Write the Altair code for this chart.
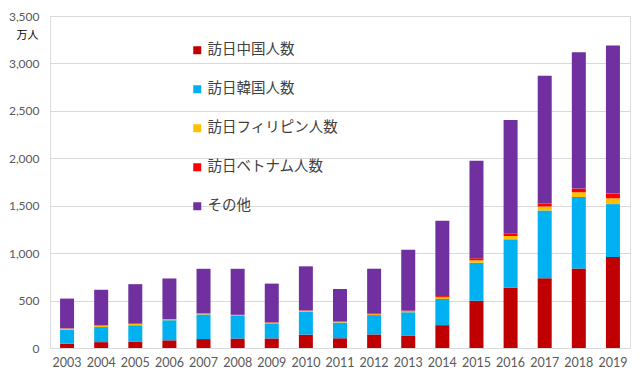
import altair as alt
import pandas as pd

years = [str(y) for y in range(2003, 2020)]
china = [45, 62, 65, 81, 94, 100, 101, 141, 104, 143, 131, 241, 499, 637, 736, 838, 959]
korea = [146, 159, 175, 212, 260, 238, 159, 244, 166, 204, 246, 276, 400, 509, 714, 754, 558]
philippines = [14, 15, 14, 10, 9, 8, 7, 8, 6, 9, 11, 18, 27, 35, 42, 50, 61]
vietnam = [2, 2, 3, 3, 4, 4, 4, 4, 4, 6, 8, 12, 19, 23, 31, 39, 50]
other = [314, 376, 416, 427, 468, 485, 408, 464, 342, 474, 640, 794, 1029, 1200, 1346, 1438, 1560]

series_names = ["訪日中国人数", "訪日韓国人数", "訪日フィリピン人数", "訪日ベトナム人数", "その他"]
series_values = [china, korea, philippines, vietnam, other]
colors = ["#c00000", "#00b0f0", "#ffc000", "#ff0000", "#7030a0"]

rows = []
for idx, (name, vals) in enumerate(zip(series_names, series_values)):
    for y, v in zip(years, vals):
        rows.append({"year": y, "series": name, "value": v, "idx": idx})
df = pd.DataFrame(rows)

num_font = "Lato"
jp_font = "Noto Sans CJK JP"

chart = alt.Chart(df).mark_bar().encode(
    x=alt.X("year:N", sort=years,
            scale=alt.Scale(paddingInner=0.59, paddingOuter=0.295),
            axis=alt.Axis(title=None, labelAngle=0, ticks=False, domain=False,
                          labelFont=num_font, labelFontSize=12.5, labelColor="#595959",
                          labelPadding=8)),
    y=alt.Y("value:Q", stack="zero",
            scale=alt.Scale(domain=[0, 3500], nice=False),
            axis=alt.Axis(values=list(range(0, 3501, 500)), format=",.0f", title="万人",
                          titleAngle=0, titleX=-12, titleY=19, titleAlign="right",
                          titleBaseline="middle", titleFont=jp_font, titleFontSize=11,
                          titleFontWeight="normal", titleColor="#000000",
                          ticks=False, domain=False, labelFont=num_font, labelFontSize=12,
                          labelColor="#595959", labelPadding=11,
                          gridColor="#d9d9d9", gridWidth=1)),
    color=alt.Color("series:N", sort=series_names,
                    scale=alt.Scale(domain=series_names, range=colors),
                    legend=alt.Legend(title=None, orient="none", legendX=140, legendY=27,
                                      symbolType="square", symbolSize=64,
                                      symbolStrokeWidth=0,
                                      labelFont=jp_font, labelFontSize=14.5,
                                      labelColor="#404040", rowPadding=24,
                                      labelOffset=3)),
    order=alt.Order("idx:Q", sort="ascending"),
).properties(
    width=580, height=332,
    autosize=alt.AutoSizeParams(type="none"),
    padding={"left": 42, "top": 8, "right": 2, "bottom": 21},
).configure_view(stroke=None).configure(background="white")

chart.save("out.html", embed_options={"renderer": "svg", "actions": False})
